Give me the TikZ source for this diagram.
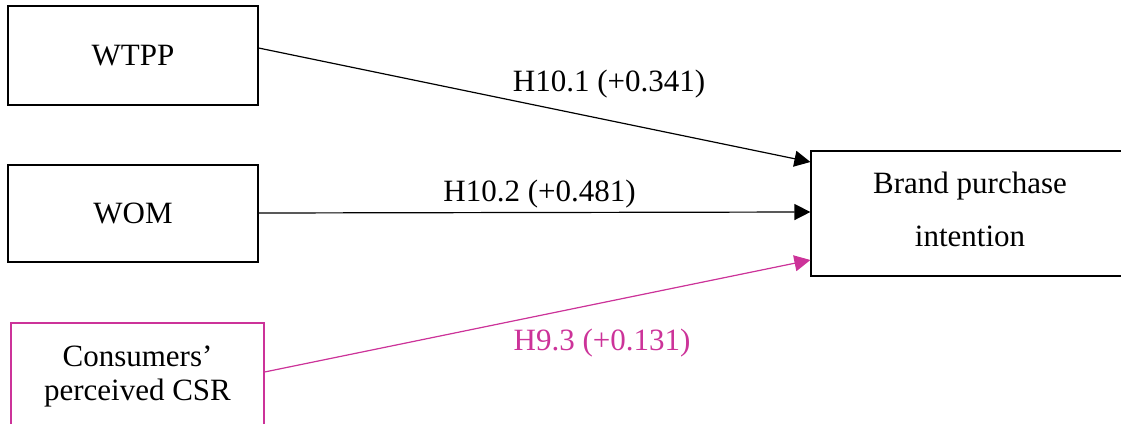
\documentclass[tikz,border=0pt]{standalone}
\usepackage{fontspec}
\setmainfont{Liberation Serif}
\usetikzlibrary{arrows.meta}
\definecolor{csrmag}{HTML}{CC3399}
\begin{document}
\begin{tikzpicture}[x=1pt,y=-1pt,
  box/.style={draw=black,line width=1.2pt,rectangle,inner sep=0pt,align=center,
    font=\fontsize{31}{36}\selectfont},
  link/.style={line width=1.2pt,-{Triangle[length=16pt,width=16pt]}},
  lab/.style={font=\fontsize{31}{36}\selectfont,inner sep=0pt}]
\clip (0,0) rectangle (1121,423);
\node[box,minimum width=250pt,minimum height=99pt] (wtpp) at (133,55.5) {WTPP};
\node[box,minimum width=250pt,minimum height=97pt] (wom) at (133,213.5) {WOM};
\node[box,draw=csrmag,minimum width=253pt,minimum height=106pt] (csr) at (137.5,376)
  {Consumers’\\[-2pt]perceived CSR};
\node[box,minimum width=318pt,minimum height=125pt] (bpi) at (970,213.5) {};
\node[lab,align=center] (bpitext) at (970,209.5) {Brand purchase\\[17pt]intention};
\draw[link] ([yshift=7.5pt]wtpp.east) -- ([yshift=51.5pt]bpi.west);
\draw[link] ([yshift=0.5pt]wom.east) -- ([yshift=1.5pt]bpi.west);
\draw[link,draw=csrmag,fill=csrmag] ([yshift=4pt]csr.east) -- ([yshift=-46.5pt]bpi.west);
\node[lab] (l1) at (609,84) {H10.1 (+0.341)};
\node[lab] (l2) at (539.5,194) {H10.2 (+0.481)};
\node[lab,text=csrmag] (l3) at (602,343) {H9.3 (+0.131)};
\end{tikzpicture}
\end{document}
